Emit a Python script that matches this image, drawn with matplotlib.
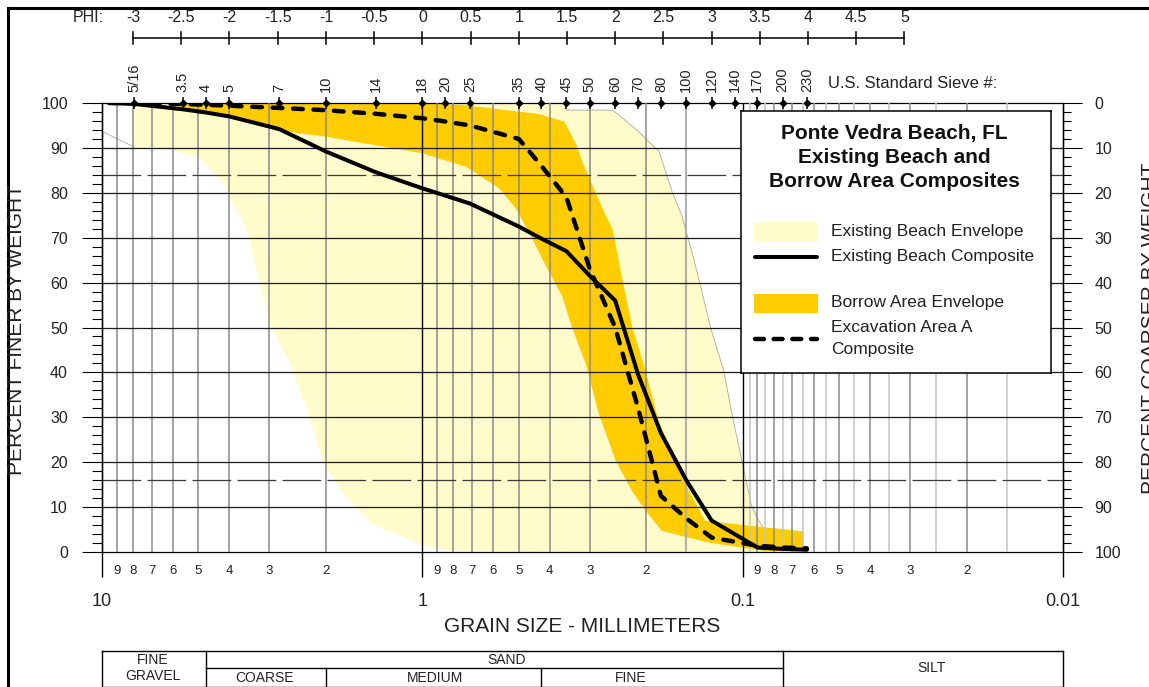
import matplotlib
matplotlib.use("Agg")
import matplotlib.pyplot as plt
from matplotlib.lines import Line2D
from matplotlib.patches import Rectangle
from matplotlib.ticker import MultipleLocator, NullLocator
from matplotlib.transforms import blended_transform_factory

plt.rcParams['font.family'] = ['Liberation Sans', 'DejaVu Sans']
TXT = "#222222"

# sieve sizes (mm) used for the composites
sieve_mm = [9.5, 7.94, 5.6, 4.75, 4.0, 2.8, 2.0, 1.4, 1.0, 0.85, 0.71, 0.5, 0.425,
            0.355, 0.3, 0.25, 0.212, 0.18, 0.15, 0.125, 0.106, 0.09, 0.075, 0.063]
beach_composite = [100, 99.8, 98.6, 97.9, 97.0, 94.2, 89.2, 84.6, 81.0, 79.4, 77.6, 72.5, 69.8,
                   67.0, 61.5, 56.0, 39.5, 26.5, 16.0, 7.0, 4.0, 1.0, 0.7, 0.5]
area_a_composite = [100, 100, 99.8, 99.6, 99.4, 98.9, 98.4, 97.6, 96.6, 95.9, 95.0, 92.0, 86.0,
                    79.0, 63.0, 50.0, 32.0, 12.5, 7.5, 3.2, 2.3, 1.4, 1.0, 0.8]

# existing beach envelope (coarse -> fine on top, fine -> coarse on bottom)
beach_env_top_mm = [7.94, 0.36, 0.355, 0.255, 0.243, 0.211, 0.189, 0.183, 0.174, 0.166, 0.155,
                    0.144, 0.1355, 0.126, 0.1146, 0.108, 0.1017, 0.098, 0.094, 0.09, 0.085]
beach_env_top = [100, 100, 98.4, 98.4, 97.3, 93.6, 90.2, 89.5, 84.7, 80.2, 75.0,
                 66.8, 59.4, 50.0, 40.4, 30.8, 21.9, 16.5, 10.5, 7.5, 4.7]
beach_env_bot_mm = [0.084, 0.5, 0.8, 1.0, 1.43, 1.69, 1.95, 2.05, 2.3, 2.6, 3.0, 3.54,
                    4.2, 4.95, 6.0, 7.94]
beach_env_bot = [0, 0, 0.3, 1.5, 6.2, 11.4, 17.4, 20.3, 32.2, 42.0, 51.0, 72.0,
                 82.4, 87.6, 89.5, 90.0]

# borrow area envelope
borrow_env_top_mm = [6.0, 1.0, 0.73, 0.43, 0.36, 0.33, 0.317, 0.30, 0.27, 0.255, 0.249, 0.238,
                     0.221, 0.201, 0.183, 0.162, 0.147, 0.131, 0.108, 0.094, 0.0646]
borrow_env_top = [100, 100, 99.5, 97.5, 95.8, 90.6, 87.0, 83.0, 75.5, 72.0, 68.3, 61.0,
                  50.0, 40.4, 29.2, 20.3, 13.6, 6.9, 6.3, 5.8, 4.6]
borrow_env_bot_mm = [0.0646, 0.085, 0.1007, 0.1276, 0.1788, 0.2009, 0.2216, 0.249, 0.281,
                     0.309, 0.341, 0.366, 0.412, 0.454, 0.51, 0.576, 0.73, 1.0, 2.0, 2.9,
                     4.0, 6.0]
borrow_env_bot = [0.2, 0.2, 1.0, 2.1, 4.7, 9.2, 13.6, 20.3, 30.7, 41.9, 50.0, 57.0, 63.8,
                  69.8, 76.5, 81.0, 85.8, 88.8, 92.5, 94.0, 97.2, 98.4]

# top scales
sieve_labels = ["5/16", "3.5", "4", "5", "7", "10", "14", "18", "20", "25", "35", "40", "45",
                "50", "60", "70", "80", "100", "120", "140", "170", "200", "230"]
sieve_label_mm = [7.94, 5.6, 4.75, 4.0, 2.8, 2.0, 1.4, 1.0, 0.85, 0.71, 0.5, 0.425, 0.355,
                  0.3, 0.25, 0.212, 0.18, 0.15, 0.125, 0.106, 0.09, 0.075, 0.063]
phi_values = [-3, -2.5, -2, -1.5, -1, -0.5, 0, 0.5, 1, 1.5, 2, 2.5, 3, 3.5, 4, 4.5, 5]
phi_labels = ["-3", "-2.5", "-2", "-1.5", "-1", "-0.5", "0", "0.5", "1", "1.5", "2", "2.5",
              "3", "3.5", "4", "4.5", "5"]

decades = [10, 1, 0.1, 0.01]
decade_labels = ["10", "1", "0.1", "0.01"]

# soil classes table
class_bounds_mm = [10, 4.75, 2.0, 0.425, 0.075, 0.01]

LIGHT = "#FFFBCB"
GOLD = "#FFCC00"

W, H = 1149, 687


def fx(px):
    return px / W


def fy(py):
    return 1 - py / H


fig = plt.figure(figsize=(W / 100, H / 100), dpi=100)
ax = fig.add_axes([fx(102), fy(552), fx(1063) - fx(102), fy(103) - fy(552)])
ax.set_xscale('log')
ax.set_xlim(10, 0.01)
ax.set_ylim(0, 100)
ax.xaxis.set_major_locator(NullLocator())
ax.xaxis.set_minor_locator(NullLocator())

# envelopes
ax.fill(beach_env_top_mm + beach_env_bot_mm, beach_env_top + beach_env_bot,
        color=LIGHT, lw=0, zorder=1)
ax.plot(beach_env_top_mm[1:], beach_env_top[1:], color="#b5b5a5", lw=0.7, zorder=1.5)
ax.plot([10, 7.94], [93.7, 90.2], color="#b5b5b5", lw=0.7, zorder=1.5)
ax.fill(borrow_env_top_mm + borrow_env_bot_mm, borrow_env_top + borrow_env_bot,
        color=GOLD, lw=0, zorder=2)

# vertical grid
for dec in [10, 1]:
    for k in range(2, 10):
        ax.axvline(dec * k / 10, color="#8a8a8a", lw=1.1, zorder=3)
ax.axvline(0.15, color="#b0b0b0", lw=1.5, zorder=3)
for k in range(15, 100, 5):
    v = k / 1000
    ax.axvline(v, color="#8a8a8a" if k % 10 == 0 else "#c4c4c4", lw=1.1, zorder=3)
ax.vlines(decades, -5.6, 100, colors='k', lw=1.0, clip_on=False, zorder=4)

# horizontal grid
for p in range(10, 100, 10):
    ax.axhline(p, color="#1a1a1a", lw=0.9, zorder=3)
for p in [16, 84]:
    ax.axhline(p, color="#3a3a3a", lw=0.9, dashes=(31, 5), zorder=3)

for s in ax.spines.values():
    s.set_color('k')
    s.set_linewidth(0.9)

ax.yaxis.set_major_locator(MultipleLocator(10))
ax.yaxis.set_minor_locator(MultipleLocator(2))
ax.tick_params(axis='y', which='major', direction='out', length=14.5, width=0.8, pad=10,
               labelsize=11.5, labelcolor=TXT)
ax.tick_params(axis='y', which='minor', direction='out', length=7, width=0.8)

ax2 = ax.twinx()
ax2.set_ylim(100, 0)
ax2.yaxis.set_major_locator(MultipleLocator(10))
ax2.yaxis.set_minor_locator(MultipleLocator(2))
ax2.tick_params(axis='y', which='major', direction='out', length=13.5, width=0.8, pad=9,
                labelsize=11.5, labelcolor=TXT)
ax2.tick_params(axis='y', which='minor', direction='out', length=6, width=0.8)
for s in ax2.spines.values():
    s.set_visible(False)

# composites
ax.plot(sieve_mm, beach_composite, color='k', lw=2.9, solid_joinstyle='round',
        solid_capstyle='round', zorder=6)
ax.plot(sieve_mm, area_a_composite, color='k', lw=3.2, dashes=(2.2, 2.4),
        dash_capstyle='round', zorder=6)

# sieve markers on the 100% line
ax.plot(sieve_label_mm, [100] * len(sieve_label_mm), ls='none', marker='|', ms=9, mew=1.1,
        color='k', clip_on=False, zorder=7)
ax.plot(sieve_label_mm, [100] * len(sieve_label_mm), ls='none', marker='D', ms=3.2,
        color='k', clip_on=False, zorder=7)

trans = blended_transform_factory(ax.transData, fig.transFigure)
for lbl, m in zip(sieve_labels, sieve_label_mm):
    ax.text(m, fy(92), lbl, transform=trans, rotation=90, ha='center', va='bottom',
            fontsize=10.5, color=TXT, clip_on=False)
fig.text(fx(828), fy(84), "U.S. Standard Sieve #:", ha='left', va='center', fontsize=12,
         color=TXT)

# PHI scale
phi_mm = [2.0 ** (-p) for p in phi_values]
ax.plot([phi_mm[0], phi_mm[-1]], [fy(38), fy(38)], transform=trans, color='k', lw=1.1,
        clip_on=False)
for m, lbl in zip(phi_mm, phi_labels):
    ax.plot([m, m], [fy(32), fy(44)], transform=trans, color='k', lw=1.1, clip_on=False)
    ax.text(m, fy(18), lbl, transform=trans, ha='center', va='center', fontsize=11.5,
            color=TXT, clip_on=False)
fig.text(fx(104), fy(18), "PHI:", ha='right', va='center', fontsize=11.5, color=TXT)

# bottom scale labels
for dec in [10, 1, 0.1]:
    for k in range(9, 1, -1):
        ax.text(dec * k / 10, -4.2, str(k), ha='center', va='center', fontsize=9.5,
                color=TXT, clip_on=False)
for d, lbl in zip(decades, decade_labels):
    ax.text(d, -11.1, lbl, ha='center', va='center', fontsize=13, color=TXT, clip_on=False)
fig.text(fx(582), fy(626), "GRAIN SIZE - MILLIMETERS", ha='center', va='center',
         fontsize=15, color=TXT)
fig.text(fx(17), fy(330), "PERCENT FINER BY WEIGHT", rotation=90, ha='center',
         va='center', fontsize=15, color=TXT)
fig.text(fx(1151), fy(328), "PERCENT COARSER BY WEIGHT", rotation=90, ha='center',
         va='center', fontsize=15, color=TXT)

# soil classification table
t0, t1, t2 = fy(651), fy(668), fy(686.5)
tk = dict(transform=trans, color='k', lw=1.0, clip_on=False)
ax.plot([class_bounds_mm[0], class_bounds_mm[-1]], [t0, t0], **tk)
ax.plot([class_bounds_mm[0], class_bounds_mm[-1]], [t2, t2], **tk)
ax.plot([class_bounds_mm[1], class_bounds_mm[4]], [t1, t1], **tk)
for b in [class_bounds_mm[0], class_bounds_mm[1], class_bounds_mm[4], class_bounds_mm[5]]:
    ax.plot([b, b], [t0, t2], **tk)
for b in [class_bounds_mm[2], class_bounds_mm[3]]:
    ax.plot([b, b], [t1, t2], **tk)
table_text = [("FINE", 153, 659.5), ("GRAVEL", 153, 676.5), ("SAND", 507, 659.5),
              ("COARSE", 265, 677.5), ("MEDIUM", 435, 677.5), ("FINE", 631, 677.5),
              ("SILT", 932, 668)]
for s, px, py in table_text:
    fig.text(fx(px), fy(py), s, ha='center', va='center', fontsize=10, color=TXT)

# page border
fig.add_artist(Line2D([fx(8), 1], [fy(8), fy(8)], transform=fig.transFigure, color='k', lw=2.2))
fig.add_artist(Line2D([fx(8), fx(8)], [fy(8), 0], transform=fig.transFigure, color='k', lw=2.2))

# legend box
lax = fig.add_axes([fx(741), fy(372.7), fx(1051) - fx(741), fy(110.7) - fy(372.7)])
lax.set_xlim(0, 310)
lax.set_ylim(262, 0)
lax.set_xticks([])
lax.set_yticks([])
for s in lax.spines.values():
    s.set_color('k')
    s.set_linewidth(1.1)
for i, line in enumerate(["Ponte Vedra Beach, FL", "Existing Beach and",
                          "Borrow Area Composites"]):
    lax.text(153, 22.5 + 24 * i, line, ha='center', va='center', fontsize=15,
             fontweight='bold', color='#111111')
lax.add_patch(Rectangle((13, 111), 64, 20, color=LIGHT, lw=0))
lax.plot([14, 76], [146, 146], color='k', lw=2.9, solid_capstyle='round')
lax.add_patch(Rectangle((13, 183.3), 64, 19, color=GOLD, lw=0))
lax.plot([14, 76], [228.6, 228.6], color='k', lw=3.2, dashes=(2.0, 2.2),
         dash_capstyle='round')
for s, y in [("Existing Beach Envelope", 120.5), ("Existing Beach Composite", 145.5),
             ("Borrow Area Envelope", 191.5), ("Excavation Area A", 216.5),
             ("Composite", 238.5)]:
    lax.text(89.7, y, s, ha='left', va='center', fontsize=12.5, color=TXT)

fig.savefig("out.png", dpi=100)
